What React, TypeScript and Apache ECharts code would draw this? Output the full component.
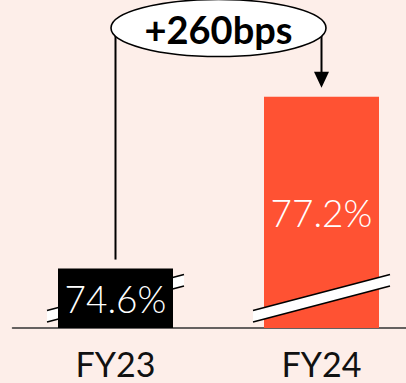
import React, { useEffect, useRef } from "react";
import * as echarts from "echarts";

// Gross margin, FY23 vs FY24 (%)
const categories = ["FY23", "FY24"];
const values = [74.6, 77.2];
const barColors = ["#000000", "#FF5233"];
const changeLabel = "+260bps";

// Truncated value axis and where the axis-break marker sits
const yMin = 73.7;
const yMax = 78.5;
const breakValue = 74.15;

const BG = "#FDEEE9";

export default function App() {
  const ref = useRef<HTMLDivElement>(null);

  useEffect(() => {
    if (!ref.current) return;
    const chart = echarts.init(ref.current, null, { renderer: "svg" });
    chart.setOption({
      animation: false,
      backgroundColor: BG,
      grid: {
        left: 12.5,
        right: -18.5,
        top: 11,
        bottom: 55,
        containLabel: false,
        outerBoundsMode: "none",
      },
      xAxis: {
        type: "category",
        data: categories,
        axisLine: { show: true, lineStyle: { color: "#333", width: 1.5 } },
        axisTick: { show: false },
        axisLabel: {
          color: "#111",
          fontFamily: "Lato",
          fontSize: 34,
          margin: 18,
        },
      },
      yAxis: {
        type: "value",
        min: yMin,
        max: yMax,
        show: false,
        splitLine: { show: false },
      },
      series: [
        {
          type: "bar",
          barWidth: 115,
          z: 2,
          data: values.map((v, i) => ({
            value: v,
            itemStyle: { color: barColors[i] },
          })),
          label: {
            show: true,
            position: "inside",
            color: "#fff",
            fontFamily: "Lato",
            fontWeight: 300,
            fontSize: 37,
            formatter: (p: any) => `${p.value.toFixed(1)}%`,
          },
        },
      ],
    });

    const px = (i: number, v: number) =>
      chart.convertToPixel({ gridIndex: 0 }, [i, v]) as number[];

    const [x0, top0] = px(0, values[0]);
    const [x1, top1] = px(1, values[1]);
    const cx = (x0 + x1) / 2;
    const cy = 28;
    const gap = 9;
    const headH = 16;
    const headW = 15;

    // slanted axis-break band across a bar
    const breakBand = (i: number, z: number) => {
      const [bx, by] = px(i, breakValue);
      const half = 68.5;
      const rise = 18;
      const t = 5.7;
      const l = bx - half;
      const r = bx + half;
      return [
        {
          type: "polygon",
          z,
          shape: {
            points: [
              [l, by + rise - t],
              [r, by - rise - t],
              [r, by - rise + t],
              [l, by + rise + t],
            ],
          },
          style: { fill: "#fff" },
        },
        {
          type: "line",
          z,
          shape: { x1: l, y1: by + rise - t, x2: r, y2: by - rise - t },
          style: { stroke: "#000", lineWidth: 1.6 },
        },
        {
          type: "line",
          z,
          shape: { x1: l, y1: by + rise + t, x2: r, y2: by - rise + t },
          style: { stroke: "#000", lineWidth: 1.6 },
        },
      ];
    };

    chart.setOption({
      graphic: [
        ...breakBand(0, 1),
        ...breakBand(1, 10),
        {
          type: "line",
          z: 10,
          shape: { x1: x0, y1: cy, x2: x0, y2: top0 - gap },
          style: { stroke: "#000", lineWidth: 2 },
        },
        {
          type: "line",
          z: 10,
          shape: { x1: x1, y1: cy, x2: x1, y2: top1 - gap - headH + 1 },
          style: { stroke: "#000", lineWidth: 2 },
        },
        {
          type: "polygon",
          z: 10,
          shape: {
            points: [
              [x1 - headW / 2, top1 - gap - headH],
              [x1 + headW / 2, top1 - gap - headH],
              [x1, top1 - gap],
            ],
          },
          style: { fill: "#000" },
        },
        {
          type: "ellipse",
          z: 11,
          shape: { cx, cy, rx: 107.5, ry: 28.5 },
          style: { fill: "#fff", stroke: "#000", lineWidth: 1.6 },
        },
        {
          type: "text",
          z: 12,
          x: cx,
          y: cy + 1,
          style: {
            text: changeLabel,
            fill: "#000",
            fontFamily: "Lato",
            fontWeight: "bold",
            fontSize: 38,
            align: "center",
            verticalAlign: "middle",
          },
        },
      ],
    });

    return () => chart.dispose();
  }, []);

  return (
    <div
      ref={ref}
      style={{
        position: "fixed",
        left: 0,
        top: 0,
        width: 406,
        height: 383,
        background: BG,
      }}
    />
  );
}
